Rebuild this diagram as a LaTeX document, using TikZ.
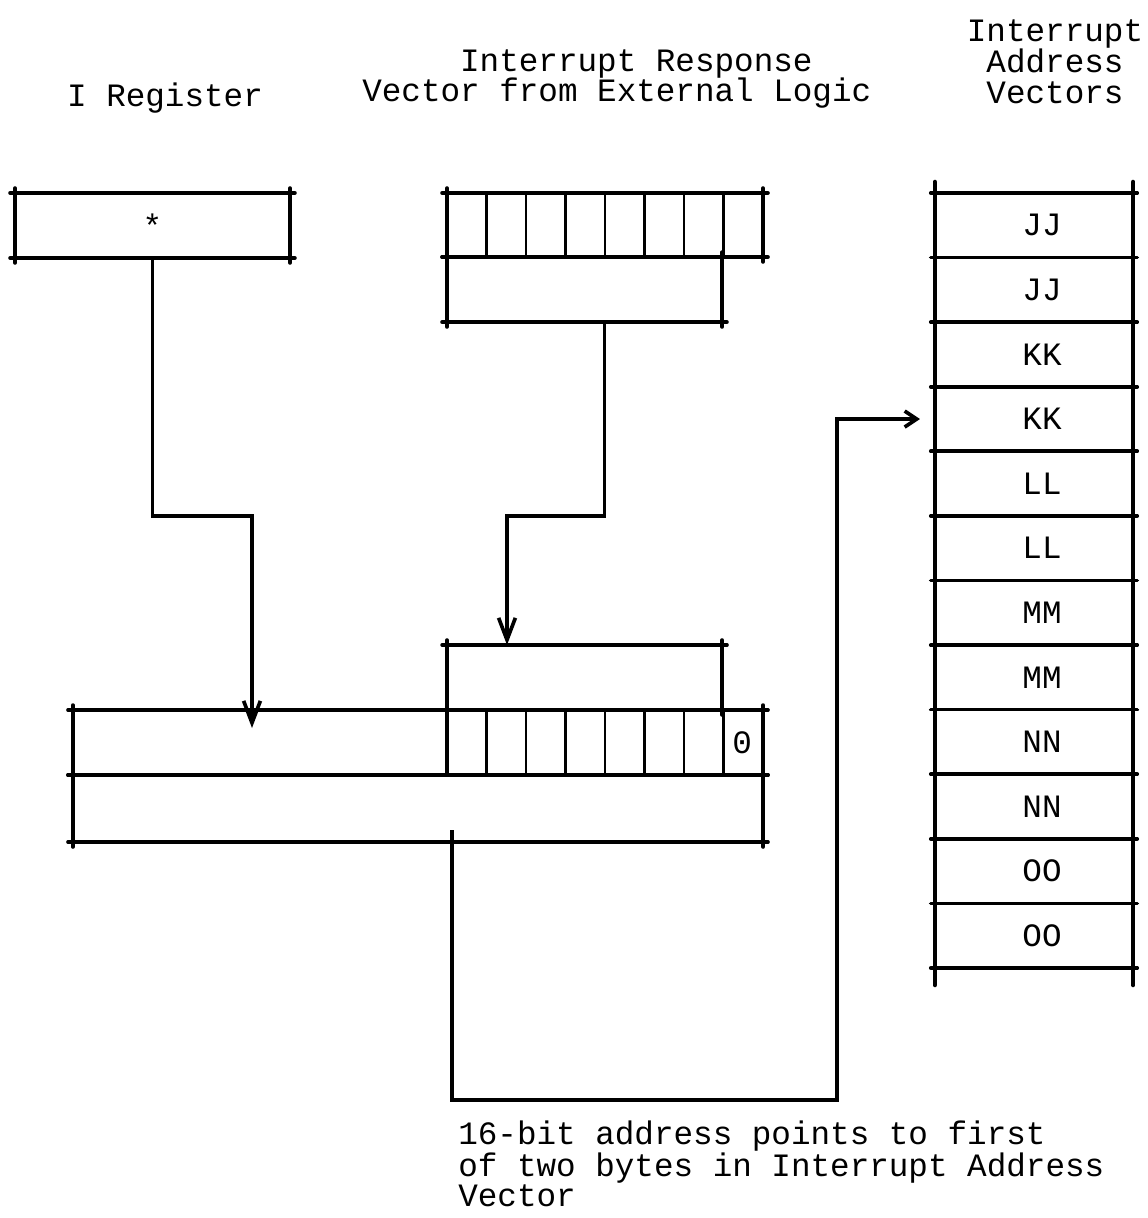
\documentclass[tikz,border=0pt]{standalone}
\usepackage{fontspec}
\setmonofont{Liberation Mono}
\usetikzlibrary{arrows.meta, positioning, calc}
\tikzset{
  font=\ttfamily\fontsize{23.2pt}{22pt}\selectfont,
  rule/.style={line width=2.6pt, line cap=round},
  thin rule/.style={line width=2pt, line cap=round},
  box/.style={draw=none, inner sep=0pt, outer sep=0pt, minimum height=1.625cm},
  slot/.style={box, minimum width=4.95cm, minimum height=1.615cm},
  flow/.style={line width=2.6pt, -{Straight Barb[length=0.55cm,width=0.42cm]}},
  feed/.style={line width=2.6pt, -{Straight Barb[length=0.3cm,width=0.4cm]}},
  lab/.style={align=center, inner sep=0pt}
}
% four edges of a register, a little past the corners
\newcommand{\frameit}[1]{%
  \draw[rule] ([xshift=-3.5pt]#1.north west) -- ([xshift=3.5pt]#1.north east);
  \draw[rule] ([xshift=-3.5pt]#1.south west) -- ([xshift=3.5pt]#1.south east);
  \draw[rule] ([yshift=3.5pt]#1.north west) -- ([yshift=-3.5pt]#1.south west);
  \draw[rule] ([yshift=3.5pt]#1.north east) -- ([yshift=-3.5pt]#1.south east);}

\begin{document}
\begin{tikzpicture}[x=0.025cm, y=-0.025cm]
  \useasboundingbox (0,0) rectangle (1147,1218);

  % headings
  \node[lab] (hdireg) at (165,98) {I Register};
  \node[lab, align=left, anchor=west] (hdvec) at (362,79)
    {\phantom{Vecto}Interrupt Response\\Vector from External Logic};
  \node[lab] (hdivt) at (1055,62) {Interrupt\\Address\\Vectors};

  % I register
  \node[box, minimum width=6.875cm] (ireg) at (152.5,225.5) {*};
  \frameit{ireg}

  % response vector from external logic
  \node[box, minimum width=7.9cm, minimum height=1.6cm] (vec) at (605,225) {};
  \frameit{vec}
  \foreach \k in {1,...,7}
    \draw[thin rule] ($(vec.north west)!\k/8!(vec.north east)$) -- ($(vec.south west)!\k/8!(vec.south east)$);
  \node[box, minimum width=6.875cm, below right=0pt and 0pt of vec.south west] (vbr) {};
  \frameit{vbr}

  % 16-bit address
  \node[box, minimum width=17.25cm] (adhi) at (418,742.5) {};
  \node[box, minimum width=17.25cm, minimum height=1.675cm, below=0pt of adhi] (adlo) {};
  \frameit{adhi}
  \frameit{adlo}
  \node[box, minimum width=7.9cm, anchor=south east] (adv) at (adhi.south east) {};
  \draw[rule] (adv.north west) -- (adv.south west);
  \foreach \k in {1,...,7}
    \draw[thin rule] ($(adv.north west)!\k/8!(adv.north east)$) -- ($(adv.south west)!\k/8!(adv.south east)$);
  \node (bit0) at ($(adv.east)+(-21,0)$) {0};
  \node[box, minimum width=6.875cm, above right=0pt and 0pt of adv.north west] (lbr) {};
  \frameit{lbr}

  % interrupt address vectors
  \foreach \v [count=\i] in {JJ,JJ,KK,KK,LL,LL,MM,MM,NN,NN,OO,OO}
    \node[slot] (ivt\i) at (1034,{193+64.583*(\i-0.5)}) {\hspace*{0.4cm}\v};
  \foreach \i in {1,...,12}
    \draw[rule] ([xshift=-3pt]ivt\i.north west) -- ([xshift=3pt]ivt\i.north east);
  \draw[rule] ([xshift=-3pt]ivt12.south west) -- ([xshift=3pt]ivt12.south east);
  \draw[rule, line width=3.2pt] ([yshift=0.275cm]ivt1.north west) -- ([yshift=-0.425cm]ivt12.south west);
  \draw[rule, line width=3.2pt] ([yshift=0.275cm]ivt1.north east) -- ([yshift=-0.425cm]ivt12.south east);

  % connectors
  \coordinate (jogA) at (252,516);
  \coordinate (jogB) at (507,516);
  \coordinate (otap) at (452,830);
  \coordinate (jogC) at (837,1100);
  \draw[flow] (ireg.south) |- (jogA) -- ($(jogA |- adhi.north)+(0,18)$);
  \draw[flow] ([xshift=0.5cm]vbr.south) |- (jogB) -- (jogB |- lbr.north);
  \draw[feed, shorten >=0.375cm] (otap) |- (jogC) |- (ivt4.west);

  \node[lab, align=left, anchor=north west, font=\ttfamily\fontsize{23.2pt}{21.3pt}\selectfont] (note) at (458,1121)
    {16-bit address points to first\\of two bytes in Interrupt Address\\Vector};
\end{tikzpicture}
\end{document}
